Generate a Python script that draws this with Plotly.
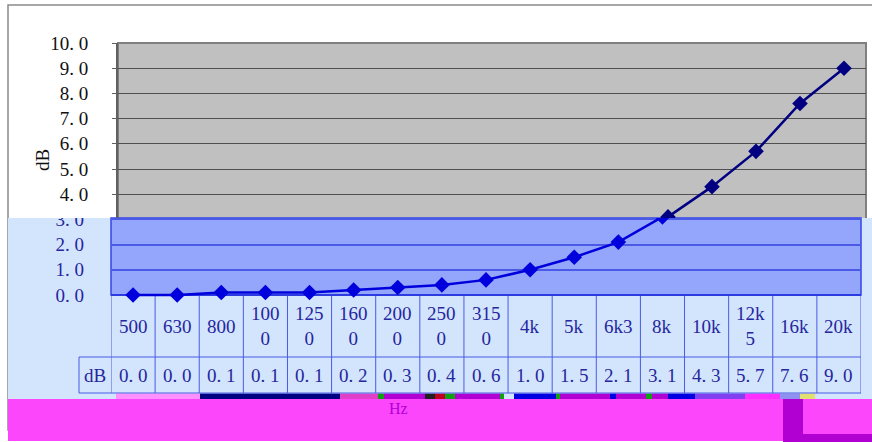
import plotly.graph_objects as go

# ---------------- data ----------------
categories = ["500", "630", "800", "1000", "1250", "1600", "2000", "2500", "3150",
              "4k", "5k", "6k3", "8k", "10k", "12k5", "16k", "20k"]
values = [0.0, 0.0, 0.1, 0.1, 0.1, 0.2, 0.3, 0.4, 0.6,
          1.0, 1.5, 2.1, 3.1, 4.3, 5.7, 7.6, 9.0]
y_ticks_upper = [4, 5, 6, 7, 8, 9, 10]
y_ticks_lower = [0, 1, 2, 3]
series_name = "dB"
x_title = "Hz"
y_title = "dB"

# ---------------- geometry helpers ----------------
W, H = 872, 442


def px(x):
    return x / W


def py(y):
    return 1 - y / H


def fmt(v):
    return f"{v:.1f}".replace(".", ". ")


def wrap(s):
    return s if len(s) <= 3 else s[:3] + "<br>" + s[3:]


SERIF = "Liberation Serif, DejaVu Serif, serif"
DARKBLUE_TXT = "#26269e"
TABLE_LINE = "#4a5ae6"
PPU = 25.2  # pixels per dB unit
FS = 19

fig = go.Figure()

# upper (grey) part of the chart
fig.add_trace(go.Scatter(
    x=categories, y=values, name=series_name, xaxis="x", yaxis="y",
    mode="lines+markers", cliponaxis=True,
    line=dict(color="#000080", width=2.5),
    marker=dict(symbol="diamond", size=12, color="#000080"),
    hoverinfo="skip"))

# lower (blue overlay) part of the chart
fig.add_trace(go.Scatter(
    x=categories, y=values, name=series_name, xaxis="x2", yaxis="y2",
    mode="lines+markers", cliponaxis=True,
    line=dict(color="#0000dc", width=2.5),
    marker=dict(symbol="diamond", size=12, color="#0000dc"),
    hoverinfo="skip"))

shapes = []
# outer chart border
shapes.append(dict(type="rect", xref="paper", yref="paper",
                   x0=px(8), x1=px(900), y0=py(430), y1=py(5),
                   line=dict(color="#8a8a8a", width=1.5), fillcolor="white", layer="below"))
# grey plot area
shapes.append(dict(type="rect", xref="paper", yref="paper",
                   x0=px(118), x1=px(866), y0=py(300), y1=py(43),
                   line=dict(color="#808080", width=2), fillcolor="#c0c0c0", layer="below"))
# light blue overlay
shapes.append(dict(type="rect", xref="paper", yref="paper",
                   x0=px(8), x1=px(872), y0=py(399), y1=py(218),
                   line=dict(width=0), fillcolor="#d3e5fc", layer="below"))
# blue plot area
shapes.append(dict(type="rect", xref="paper", yref="paper",
                   x0=px(111), x1=px(861), y0=py(295), y1=py(218),
                   line=dict(color="#3444e6", width=1.5), fillcolor="#93a6fb", layer="below"))
# magenta band
shapes.append(dict(type="rect", xref="paper", yref="paper",
                   x0=px(8), x1=px(872), y0=py(441), y1=py(399),
                   line=dict(width=0), fillcolor="#fc46fc", layer="below"))
# purple L-shape
shapes.append(dict(type="rect", xref="paper", yref="paper",
                   x0=px(783), x1=px(803), y0=py(442), y1=py(398),
                   line=dict(width=0), fillcolor="#b000d2", layer="below"))
shapes.append(dict(type="rect", xref="paper", yref="paper",
                   x0=px(803), x1=px(872), y0=py(442), y1=py(434),
                   line=dict(width=0), fillcolor="#b000d2", layer="below"))
# glitch strip
strip = [(116, 200, "#ff90ff"), (200, 340, "#000080"), (340, 378, "#e040c8"),
         (378, 384, "#10a010"), (384, 425, "#b000d2"), (425, 435, "#202020"),
         (435, 445, "#c00020"), (445, 455, "#10a010"), (455, 500, "#b000d2"),
         (500, 504, "#10a010"), (514, 556, "#0000e0"), (556, 560, "#10a010"),
         (560, 610, "#b000d2"), (610, 616, "#0000e0"), (616, 646, "#b000d2"),
         (646, 652, "#10a010"), (652, 668, "#b000d2"), (668, 695, "#0000e0"),
         (695, 745, "#8040f0"), (745, 780, "#ff30ff"), (780, 800, "#9090f0"),
         (800, 815, "#e0e070")]
for x0, x1, c in strip:
    shapes.append(dict(type="rect", xref="paper", yref="paper",
                       x0=px(x0), x1=px(x1), y0=py(399), y1=py(393.5),
                       line=dict(width=0), fillcolor=c, layer="below"))

# data table lines
n = len(categories)
for i in range(n + 1):
    shapes.append(dict(type="line", xref="x2", yref="paper",
                       x0=i - 0.5, x1=i - 0.5, y0=py(295), y1=py(393),
                       line=dict(color=TABLE_LINE, width=1), layer="below"))
for yy in (357, 393):
    shapes.append(dict(type="line", xref="paper", yref="paper",
                       x0=px(79), x1=px(861), y0=py(yy), y1=py(yy),
                       line=dict(color=TABLE_LINE, width=1), layer="below"))
shapes.append(dict(type="line", xref="paper", yref="paper",
                   x0=px(79), x1=px(79), y0=py(357), y1=py(393),
                   line=dict(color=TABLE_LINE, width=1), layer="below"))
# white patch hiding the top of the overlay's "3.0" label
shapes.append(dict(type="rect", xref="paper", yref="paper",
                   x0=px(40), x1=px(109), y0=py(218), y1=py(204),
                   line=dict(width=0), fillcolor="white", layer="above"))

annotations = []
for i, c in enumerate(categories):
    annotations.append(dict(xref="x2", yref="paper", x=i, y=py(326), text=wrap(c),
                            showarrow=False, xanchor="center", yanchor="middle",
                            font=dict(family=SERIF, size=FS, color=DARKBLUE_TXT)))
for i, v in enumerate(values):
    annotations.append(dict(xref="x2", yref="paper", x=i, y=py(375), text=fmt(v),
                            showarrow=False, xanchor="center", yanchor="middle",
                            font=dict(family=SERIF, size=FS, color=DARKBLUE_TXT)))
annotations.append(dict(xref="paper", yref="paper", x=px(95), y=py(375), text=series_name,
                        showarrow=False, xanchor="center", yanchor="middle",
                        font=dict(family=SERIF, size=FS, color=DARKBLUE_TXT)))
annotations.append(dict(xref="paper", yref="paper", x=px(398), y=py(408), text=x_title,
                        showarrow=False, xanchor="center", yanchor="middle",
                        font=dict(family=SERIF, size=16, color="#b000d2")))
annotations.append(dict(xref="paper", yref="paper", x=px(42), y=py(160), text=y_title,
                        showarrow=False, textangle=-90, xanchor="center", yanchor="middle",
                        font=dict(family=SERIF, size=FS, color="#111111")))

fig.update_layout(
    width=W, height=H,
    margin=dict(l=0, r=0, t=0, b=0, pad=0, autoexpand=False),
    paper_bgcolor="white",
    plot_bgcolor="rgba(0,0,0,0)",
    showlegend=False,
    shapes=shapes,
    annotations=annotations,
    xaxis=dict(domain=[px(118), px(866)], type="category", range=[-0.5, n - 0.5],
               showticklabels=False, showgrid=False, zeroline=False, showline=False,
               ticks="", anchor="y", fixedrange=True, automargin=False),
    yaxis=dict(domain=[py(218), py(43)], range=[77 / PPU, 10], anchor="x",
               tickvals=y_ticks_upper, ticktext=[fmt(v) for v in y_ticks_upper],
               showgrid=True, gridcolor="#505050", gridwidth=1, zeroline=False,
               showline=True, linecolor="#606060", linewidth=2,
               ticks="outside", ticklen=4, tickcolor="#606060", ticklabelstandoff=20,
               tickfont=dict(family=SERIF, size=FS, color="#111111"), fixedrange=True,
               automargin=False),
    xaxis2=dict(domain=[px(111), px(861)], type="category", range=[-0.5, n - 0.5],
                showticklabels=False, showgrid=False, zeroline=False, showline=False,
                ticks="", anchor="y2", fixedrange=True, automargin=False),
    yaxis2=dict(domain=[py(305), py(218)], range=[-10 / PPU, 77 / PPU], anchor="x2",
                tickvals=y_ticks_lower, ticktext=[fmt(v) for v in y_ticks_lower],
                showgrid=True, gridcolor="#4a5ae6", gridwidth=1.5,
                zeroline=True, zerolinecolor="#2c3ce0", zerolinewidth=2,
                showline=False, ticks="", ticklabelstandoff=26,
                tickfont=dict(family=SERIF, size=FS, color=DARKBLUE_TXT), fixedrange=True,
                automargin=False),
)

fig.write_html("out.html", config={"displayModeBar": False},
               post_script="document.body.style.margin='0';")
